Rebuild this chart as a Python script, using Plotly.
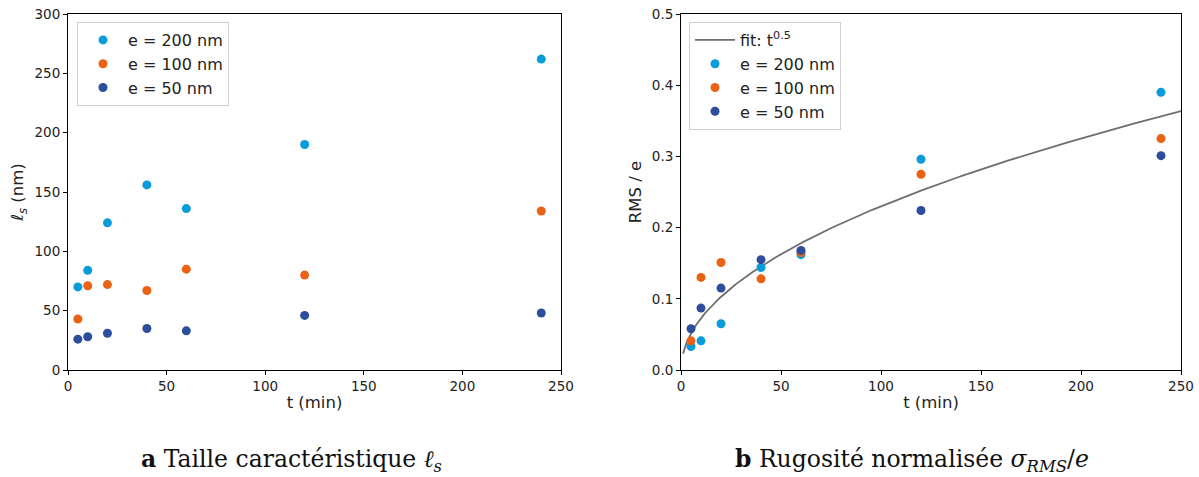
import numpy as np
import plotly.graph_objects as go

# ---- data ----
t_min = [5, 10, 20, 40, 60, 120, 240]
labels = ["e = 200 nm", "e = 100 nm", "e = 50 nm"]
colors = ["#0A9BDB", "#EA6214", "#2D4E9C"]

ls_200 = [70, 84, 124, 156, 136, 190, 262]
ls_100 = [43, 71, 72, 67, 85, 80, 134]
ls_50 = [26, 28, 31, 35, 33, 46, 48]

rms_200 = [0.033, 0.041, 0.065, 0.144, 0.162, 0.296, 0.390]
rms_100 = [0.041, 0.130, 0.151, 0.128, 0.165, 0.275, 0.325]
rms_50 = [0.058, 0.087, 0.115, 0.155, 0.168, 0.224, 0.301]

fit_coef = 0.023
fit_exponent = 0.5
fit_t = np.linspace(1, 250, 300)
fit_y = fit_coef * fit_t ** fit_exponent

x_ticks = [0, 50, 100, 150, 200, 250]
y1_ticks = [0, 50, 100, 150, 200, 250, 300]
y2_ticks = [0.0, 0.1, 0.2, 0.3, 0.4, 0.5]
y2_ticklabels = ["0.0", "0.1", "0.2", "0.3", "0.4", "0.5"]

FONT = "DejaVu Sans"

fig = go.Figure()

for lab, col, vals in zip(labels, colors, [ls_200, ls_100, ls_50]):
    fig.add_trace(go.Scatter(x=t_min, y=vals, mode="markers", name=lab,
                             marker=dict(color=col, size=9),
                             xaxis="x", yaxis="y", legend="legend"))

fig.add_trace(go.Scatter(x=fit_t, y=fit_y, mode="lines", name="fit: t<sup>0.5</sup>",
                         line=dict(color="#6e6e6e", width=1.8),
                         xaxis="x2", yaxis="y2", legend="legend2"))
for lab, col, vals in zip(labels, colors, [rms_200, rms_100, rms_50]):
    fig.add_trace(go.Scatter(x=t_min, y=vals, mode="markers", name=lab,
                             marker=dict(color=col, size=9),
                             xaxis="x2", yaxis="y2", legend="legend2"))

W, H = 1199, 477
ML, MR, MT, MB = 68, 18, 14, 107
PW, PH = W - ML - MR, H - MT - MB

def px(x):
    return (x - ML) / PW

def py(y):
    return 1 - (y - MT) / PH

axis_common = dict(showline=True, linecolor="black", linewidth=1, mirror=True,
                   ticks="outside", ticklen=4, tickcolor="black", showgrid=False,
                   zeroline=False, automargin=False, ticklabeloverflow="allow",
                   tickfont=dict(family=FONT, size=13.5, color="#222"))

TITLE_FONT = dict(family=FONT, size=16.5, color="#222")

fig.update_layout(
    width=W, height=H,
    margin=dict(l=ML, r=MR, t=MT, b=MB, autoexpand=False),
    paper_bgcolor="white", plot_bgcolor="white",
    font=dict(family=FONT, size=13, color="#222"),
    xaxis=dict(domain=[px(68), px(561)], range=[0, 250], tickvals=x_ticks,
               title=dict(text="t (min)", font=TITLE_FONT, standoff=3),
               anchor="y", **axis_common),
    yaxis=dict(domain=[0, 1], range=[0, 300], tickvals=y1_ticks,
               title=dict(text="<i>ℓ</i><sub><i>s</i></sub> (nm)", font=TITLE_FONT, standoff=6),
               anchor="x", **axis_common),
    xaxis2=dict(domain=[px(681), px(1181)], range=[0, 250], tickvals=x_ticks,
                title=dict(text="t (min)", font=TITLE_FONT, standoff=3),
                anchor="y2", **axis_common),
    yaxis2=dict(domain=[0, 1], range=[0, 0.5], tickvals=y2_ticks,
                ticktext=y2_ticklabels,
                title=dict(text="RMS / e", font=TITLE_FONT, standoff=6),
                anchor="x2", **axis_common),
    legend=dict(x=px(77), y=py(22), xanchor="left", yanchor="top",
                bgcolor="white", bordercolor="#d0d0d0", borderwidth=1,
                font=dict(family=FONT, size=16, color="#222"),
                itemwidth=40, tracegroupgap=0),
    legend2=dict(x=px(689), y=py(22), xanchor="left", yanchor="top",
                 bgcolor="white", bordercolor="#d0d0d0", borderwidth=1,
                 font=dict(family=FONT, size=16, color="#222"),
                 itemwidth=40, tracegroupgap=0),
    showlegend=True,
)

CAP_FONT = dict(family="DejaVu Serif", size=23.5, color="#111")
fig.add_annotation(text="<b>a</b> Taille caractéristique <i>ℓ</i><sub><i>s</i></sub>",
                   x=px(291), y=py(460), xref="paper", yref="paper",
                   showarrow=False, font=CAP_FONT, xanchor="center", yanchor="middle")
fig.add_annotation(text="<b>b</b> Rugosité normalisée <i>σ</i><sub><i>RMS</i></sub>/<i>e</i>",
                   x=px(912), y=py(460), xref="paper", yref="paper",
                   showarrow=False, font=CAP_FONT, xanchor="center", yanchor="middle")

fig.write_html("out.html",
               config={"displayModeBar": False},
               post_script="document.body.style.margin='0';document.body.style.overflow='hidden';")
